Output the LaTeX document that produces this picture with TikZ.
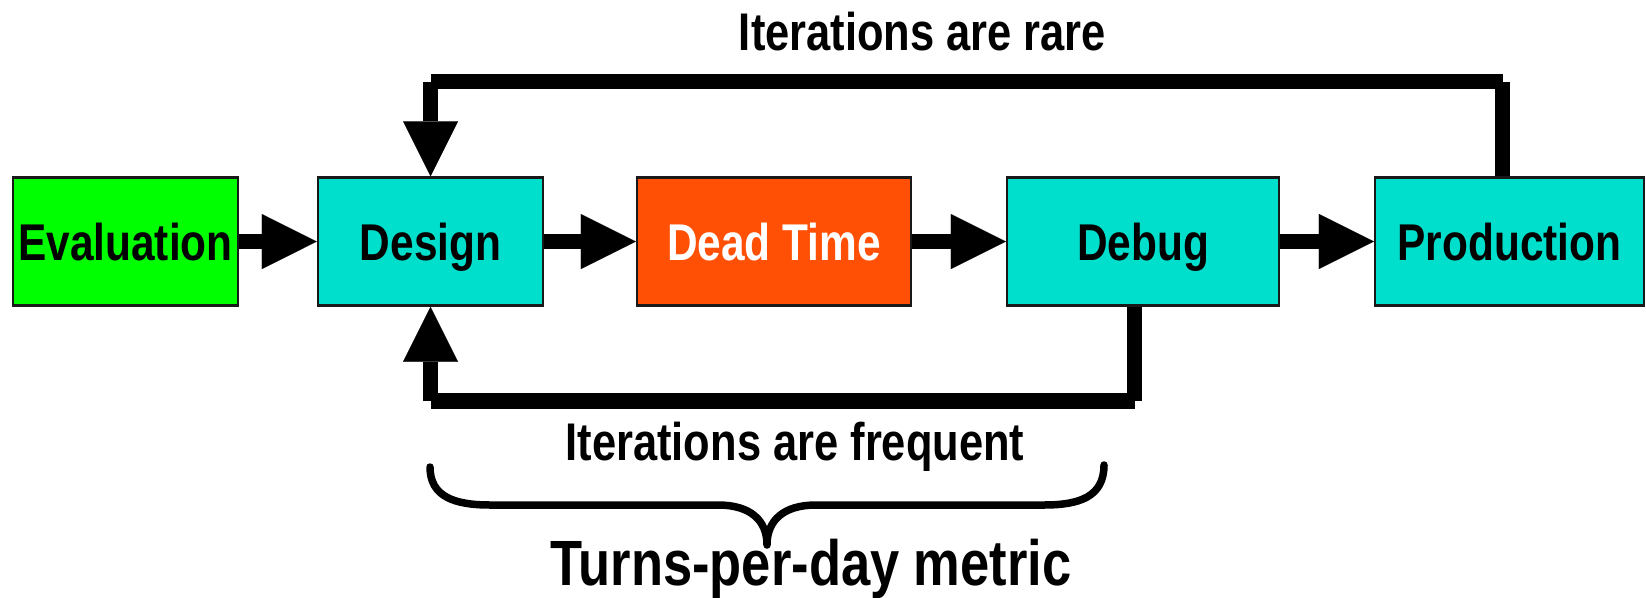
\documentclass[tikz,border=0pt]{standalone}
\usepackage{fontspec}
\setmainfont[FakeStretch=0.82]{Liberation Sans}
\usetikzlibrary{arrows.meta}
\definecolor{evalgreen}{RGB}{0,255,0}
\definecolor{stagecyan}{RGB}{0,223,204}
\definecolor{deadorange}{RGB}{255,80,5}
\begin{document}
\begin{tikzpicture}[x=1pt,y=-1pt,
  stagebox/.style={draw=black!90, line width=2.5pt, minimum height=128pt,
    inner sep=0pt, text height=37pt, text depth=0pt,
    font=\fontsize{51.7}{60}\selectfont\bfseries},
  flow/.style={line width=15.5pt,
    -{Triangle[length=55pt,width=55pt,line width=0.01pt]}},
  loopline/.style={line width=15.5pt},
  caption/.style={anchor=base, inner sep=0pt,
    font=\fontsize{53}{60}\selectfont\bfseries},
  bigcaption/.style={anchor=base, inner sep=0pt,
    font=\fontsize{64}{70}\selectfont\bfseries},
  bracestroke/.style={line width=7.5pt, line cap=round, line join=round},
]
\useasboundingbox (0,0) rectangle (1646,597);

% process stages
\node[stagebox, fill=evalgreen,  minimum width=225pt] (eval)   at (125.5,241.5) {Evaluation};
\node[stagebox, fill=stagecyan,  minimum width=225pt] (design) at (430.5,241.5) {Design};
\node[stagebox, fill=deadorange, minimum width=274pt, text=white] (dead) at (774,241.5) {Dead Time};
\node[stagebox, fill=stagecyan,  minimum width=272pt] (debug)  at (1143,241.5) {Debug};
\node[stagebox, fill=stagecyan,  minimum width=269pt] (prod)   at (1509.5,241.5) {Production};

% forward flow
\draw[flow] (eval) -- (design);
\draw[flow] (design) -- (dead);
\draw[flow] (dead) -- (debug);
\draw[flow] (debug) -- (prod);

% slow loop: production back to design
\coordinate (tr) at (1502.5,81.5);
\coordinate (tl) at (430.5,81.5);
\draw[loopline] (prod.north -| tr) -- (tr);
\draw[loopline] (tr) -- (tl);
\draw[flow] (tl) -- (design.north);

% fast loop: debug back to design
\coordinate (br) at (1134.5,401);
\coordinate (bl) at (430.5,401);
\draw[loopline] (debug.south -| br) -- (br);
\draw[loopline] (br) -- (bl);
\draw[flow] (bl) -- (design.south);

% labels
\node[caption] (rare) at (922.5,50) {Iterations are rare};
\node[caption] (freq) at (795,460) {Iterations are frequent};

% brace over the fast loop
\draw[bracestroke] (430,467) .. controls (430,497) and (455,505) .. (490,505)
  -- (718,505) .. controls (750,505) and (767,520) .. (767,545)
  .. controls (767,520) and (784,505) .. (816,505)
  -- (1044,505) .. controls (1079,505) and (1104,497) .. (1104,465);

\node[bigcaption] (turns) at (811,585) {Turns-per-day metric};
\end{tikzpicture}
\end{document}
